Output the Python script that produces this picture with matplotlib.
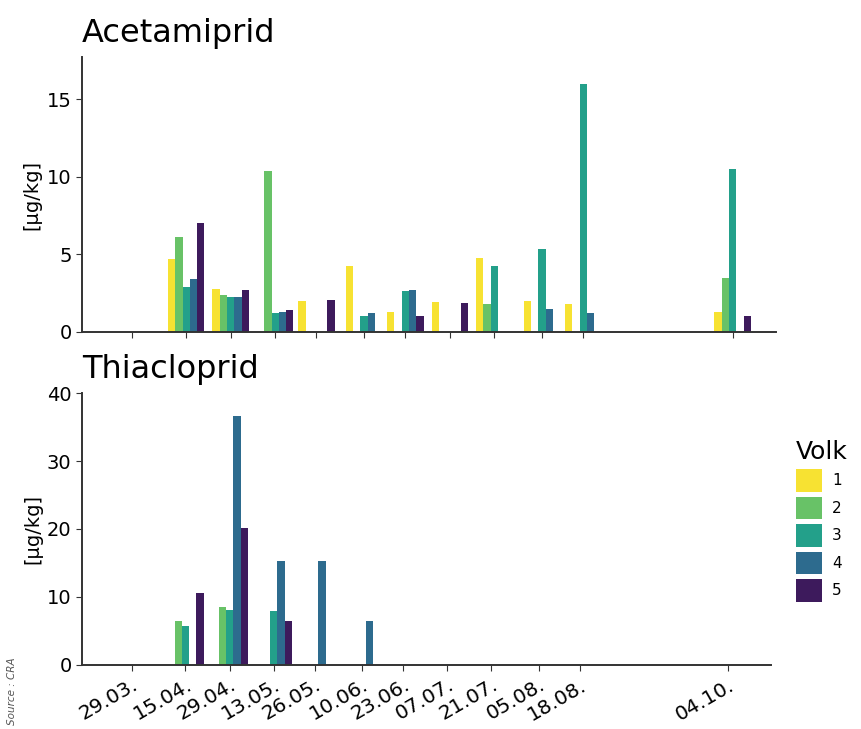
import matplotlib
matplotlib.use('Agg')
import matplotlib.pyplot as plt
import matplotlib.dates as mdates
import numpy as np
import pandas as pd

# Probenahmedaten (Tag.Monat.)
dates = ['29.03.', '15.04.', '29.04.', '13.05.', '26.05.', '10.06.',
         '23.06.', '07.07.', '21.07.', '05.08.', '18.08.', '04.10.']
volk_labels = ['1', '2', '3', '4', '5']
volk_colors = ['#f7e232', '#68c267', '#23a08a', '#2d6b8e', '#3d1a5c']

nan = np.nan
# Acetamiprid [µg/kg] je Volk
acet_1 = [nan, 4.7, 2.75, nan, 2.0, 4.25, 1.3, 1.9, 4.75, 2.0, 1.8, 1.3]
acet_2 = [nan, 6.1, 2.35, 10.35, nan, nan, nan, nan, 1.8, nan, nan, 3.5]
acet_3 = [nan, 2.9, 2.25, 1.2, nan, 1.0, 2.65, nan, 4.25, 5.35, 16.0, 10.5]
acet_4 = [nan, 3.4, 2.25, 1.3, nan, 1.2, 2.7, nan, nan, 1.45, 1.25, nan]
acet_5 = [nan, 7.0, 2.7, 1.4, 2.05, nan, 1.0, 1.85, nan, nan, nan, 1.05]

# Thiacloprid [µg/kg] je Volk
thia_1 = [nan] * 12
thia_2 = [nan, 6.4, 8.5, nan, nan, nan, nan, nan, nan, nan, nan, nan]
thia_3 = [nan, 5.8, 8.1, 7.9, nan, nan, nan, nan, nan, nan, nan, nan]
thia_4 = [nan, nan, 36.6, 15.3, 15.3, 6.4, nan, nan, nan, nan, nan, nan]
thia_5 = [nan, 10.6, 20.1, 6.4, nan, nan, nan, nan, nan, nan, nan, nan]

acet = [acet_1, acet_2, acet_3, acet_4, acet_5]
thia = [thia_1, thia_2, thia_3, thia_4, thia_5]

x = pd.to_datetime([d + '2019' for d in dates], format='%d.%m.%Y')
xnum = mdates.date2num(x)
width = 2.3  # Tage

fig = plt.figure(figsize=(8.61, 7.29), dpi=100)
ax1 = fig.add_axes([0.0952, 0.5446, 0.806, 0.377])
ax2 = fig.add_axes([0.0952, 0.0878, 0.8003, 0.3731])


def draw(ax, data, title, ymax, yticks):
    for i, vals in enumerate(data):
        ax.bar(xnum + (i - 2) * width, vals, width=width,
               color=volk_colors[i], label=volk_labels[i], linewidth=0)
    ax.set_title(title, loc='left', fontsize=23, pad=11)
    ax.set_ylabel('[µg/kg]', fontsize=14)
    ax.set_ylim(0, ymax)
    ax.set_yticks(yticks)
    ax.set_xlim(xnum[0] - 15.8, xnum[-1] + 13.6)
    ax.set_xticks(xnum)
    for s in ['top', 'right']:
        ax.spines[s].set_visible(False)
    for s in ['left', 'bottom']:
        ax.spines[s].set_color('#333333')
        ax.spines[s].set_linewidth(1.4)
    ax.tick_params(labelsize=14, length=4, color='#333333')


draw(ax1, acet, 'Acetamiprid', 17.7, [0, 5, 10, 15])
draw(ax2, thia, 'Thiacloprid', 40, [0, 10, 20, 30, 40])

ax1.set_xticklabels([])
ax2.set_xticklabels(dates, rotation=30, ha='right', rotation_mode='anchor',
                    fontsize=14.5)
ax1.yaxis.set_label_coords(-0.058, 0.5)
ax2.yaxis.set_label_coords(-0.058, 0.5)

# Legende
handles, labels = ax1.get_legend_handles_labels()
leg = fig.legend(handles, labels, title='Volk', loc='upper left',
                 bbox_to_anchor=(0.924, 0.396), frameon=False,
                 fontsize=11, title_fontsize=18, alignment='left',
                 handlelength=1.7, handleheight=1.9, labelspacing=0.32,
                 handletextpad=0.7, borderpad=0, borderaxespad=0)

fig.text(0.008, 0.005, 'Source : CRA', rotation=90, fontsize=7.5,
         style='italic', color='#555555', ha='left', va='bottom')

plt.savefig('out.png', dpi=100)
